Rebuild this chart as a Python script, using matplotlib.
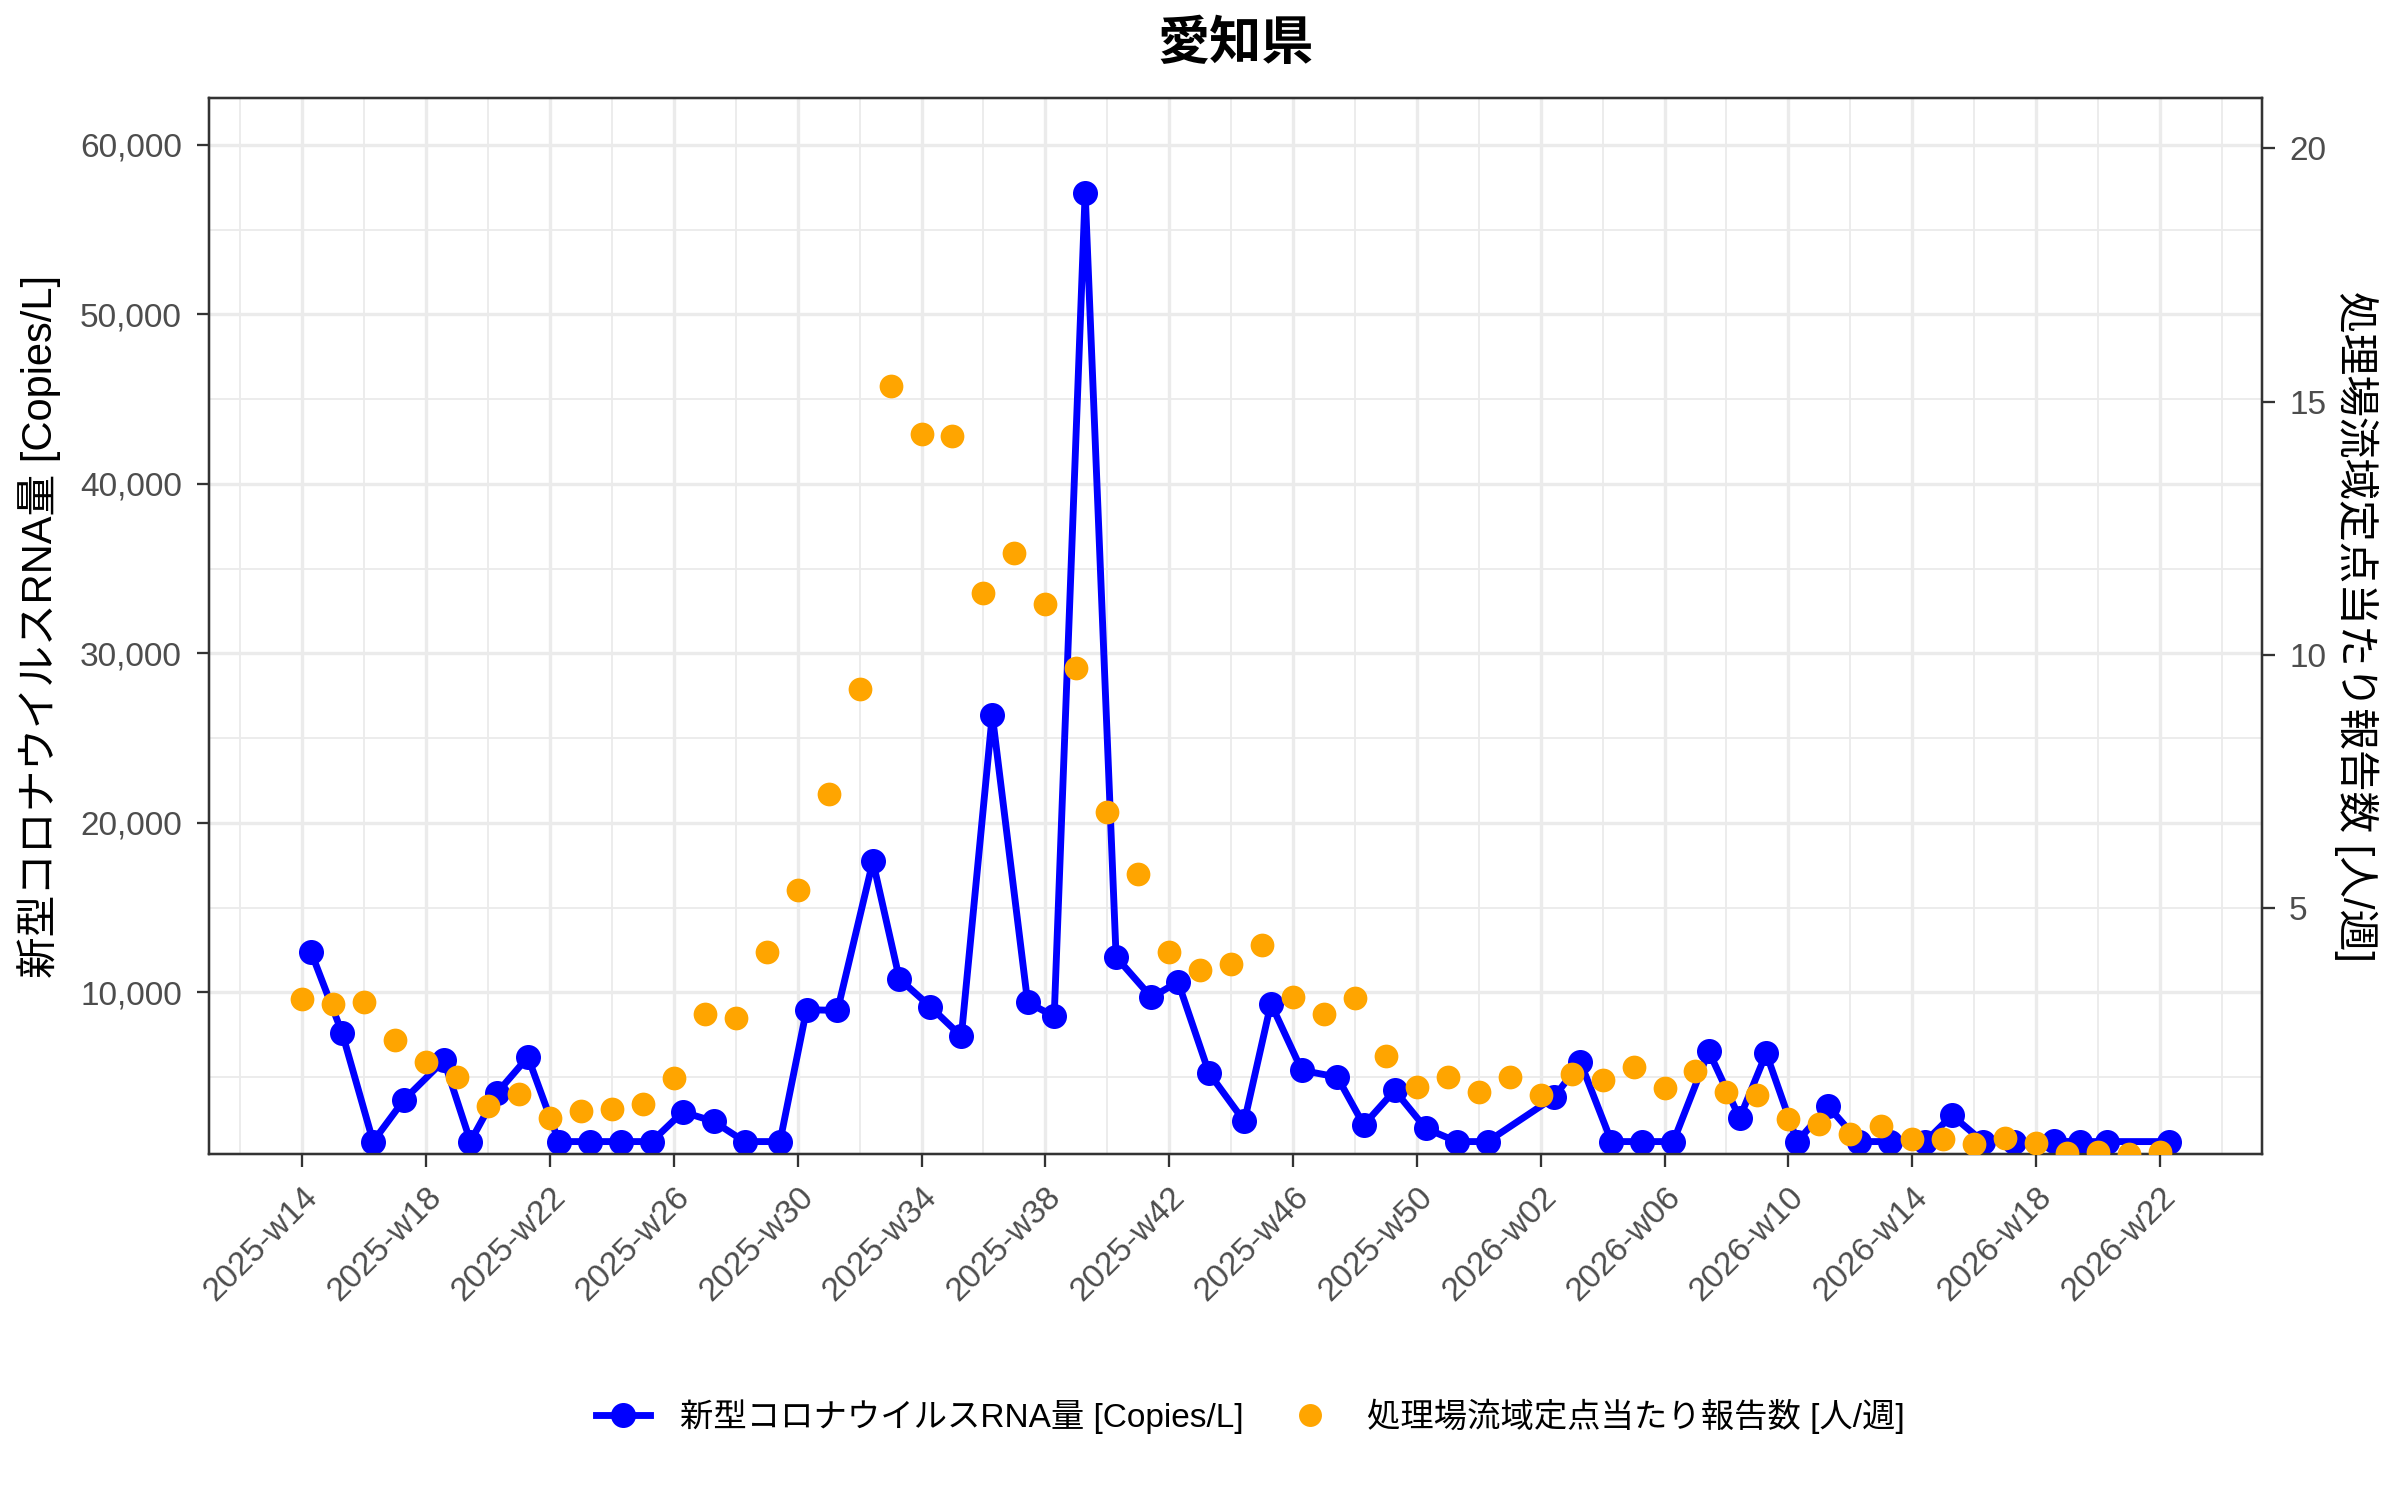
import datetime as dt
import matplotlib
matplotlib.use("Agg")
import matplotlib.pyplot as plt
import matplotlib.dates as mdates
from matplotlib.ticker import FixedLocator, FuncFormatter
from matplotlib.lines import Line2D

plt.rcParams['font.family'] = ['Liberation Sans', 'Noto Sans CJK JP', 'DejaVu Sans']

# ---------------- data ----------------
title = "愛知県"
rna_label = "新型コロナウイルスRNA量 [Copies/L]"
rep_label = "処理場流域定点当たり報告数 [人/週]"

rna_dates = [
    "2025-04-02", "2025-04-09", "2025-04-16", "2025-04-23", "2025-05-02",
    "2025-05-08", "2025-05-14", "2025-05-21", "2025-05-28", "2025-06-04",
    "2025-06-11", "2025-06-18", "2025-06-25", "2025-07-02", "2025-07-09",
    "2025-07-17", "2025-07-23", "2025-07-30", "2025-08-07", "2025-08-13",
    "2025-08-20", "2025-08-27", "2025-09-03", "2025-09-11", "2025-09-17",
    "2025-09-24", "2025-10-01", "2025-10-09", "2025-10-15", "2025-10-22",
    "2025-10-30", "2025-11-05", "2025-11-12", "2025-11-20", "2025-11-26",
    "2025-12-03", "2025-12-10", "2025-12-17", "2025-12-24", "2026-01-08",
    "2026-01-14", "2026-01-21", "2026-01-28", "2026-02-04", "2026-02-12",
    "2026-02-19", "2026-02-25", "2026-03-04", "2026-03-11", "2026-03-18",
    "2026-03-25", "2026-04-02", "2026-04-08", "2026-04-15", "2026-04-22",
    "2026-05-01", "2026-05-07", "2026-05-13", "2026-05-27",
]
rna_values = [
    12350, 7600, 1190, 3660, 5980,
    1190, 4060, 6180, 1190, 1190,
    1190, 1190, 2940, 2380, 1190,
    1190, 8970, 8930, 17720, 10790,
    9150, 7400, 26370, 9400, 8580,
    57180, 12080, 9700, 10610, 5240,
    2380, 9330, 5390, 5000, 2170,
    4210, 1970, 1190, 1190, 3800,
    5870, 1190, 1190, 1190, 6520,
    2580, 6400, 1190, 3270, 1190,
    1190, 1190, 2740, 1190, 1190,
    1200, 1190, 1190, 1190,
]

report_weeks = (["2025-w%02d" % w for w in range(14, 53)] +
                ["2026-w%02d" % w for w in range(1, 23)])
report_values = [
    3.21, 3.12, 3.16, 2.41, 1.96, 1.68, 1.10, 1.33, 0.87, 1.00,
    1.05, 1.14, 1.66, 2.91, 2.84, 4.14, 5.37, 7.26, 9.33, 15.30,
    14.37, 14.32, 11.22, 12.02, 11.01, 9.75, 6.91, 5.68, 4.14, 3.79,
    3.91, 4.28, 3.26, 2.91, 3.24, 2.08, 1.48, 1.68, 1.37,
    1.68, 1.31, 1.74, 1.62, 1.87, 1.46, 1.80, 1.37, 1.31, 0.84,
    0.75, 0.54, 0.70, 0.45, 0.45, 0.36, 0.47, 0.37, 0.17, 0.20,
    0.16, 0.19,
]

tick_labels = ["2025-w14", "2025-w18", "2025-w22", "2025-w26", "2025-w30",
               "2025-w34", "2025-w38", "2025-w42", "2025-w46", "2025-w50",
               "2026-w02", "2026-w06", "2026-w10", "2026-w14", "2026-w18",
               "2026-w22"]

left_ticks = [10000, 20000, 30000, 40000, 50000, 60000]
right_ticks = [5, 10, 15, 20]
scale_k = 2990.0
left_ylim = (460, 62770)


def week_to_date(label):
    y, w = label.split("-w")
    return dt.date.fromisocalendar(int(y), int(w), 1)


rna_x = [mdates.date2num(dt.date.fromisoformat(d)) for d in rna_dates]
rep_x = [mdates.date2num(week_to_date(w)) for w in report_weeks]
tick_x = [mdates.date2num(week_to_date(w)) for w in tick_labels]

# ---------------- figure ----------------
fig = plt.figure(figsize=(16, 10), dpi=150)
ax = fig.add_axes([0.0871, 0.2307, 0.8554, 0.7040])
ax2 = ax.twinx()

BLUE = "#0000FF"
ORANGE = "#FFA500"
GRID = "#EBEBEB"
DARK = "#333333"

ax.plot(rna_x, rna_values, color=BLUE, lw=3.3, marker='o', ms=11,
        zorder=3, solid_joinstyle='round')
ax2.scatter(rep_x, report_values, s=130, color=ORANGE, zorder=4,
            linewidths=0)

# x limits with 5% expansion
xmin = min(min(rna_x), min(rep_x))
xmax = max(max(rna_x), max(rep_x))
pad = 0.05 * (xmax - xmin)
ax.set_xlim(xmin - pad, xmax + pad)

ax.set_ylim(*left_ylim)
ax2.set_ylim(left_ylim[0] / scale_k, left_ylim[1] / scale_k)

# ticks
ax.xaxis.set_major_locator(FixedLocator(tick_x))
ax.set_xticklabels(tick_labels)
step = tick_x[1] - tick_x[0]
minor_x = [tick_x[0] - step / 2 + i * step for i in range(len(tick_x) + 1)]
ax.xaxis.set_minor_locator(FixedLocator(minor_x))

ax.yaxis.set_major_locator(FixedLocator(left_ticks))
ax.yaxis.set_major_formatter(FuncFormatter(lambda v, p: f"{v:,.0f}"))
minor_y = [v - 5000 for v in left_ticks] + [left_ticks[-1] + 5000]
ax.yaxis.set_minor_locator(FixedLocator(minor_y))

ax2.yaxis.set_major_locator(FixedLocator(right_ticks))
ax2.yaxis.set_major_formatter(FuncFormatter(lambda v, p: f"{v:g}"))

for a in (ax, ax2):
    a.tick_params(axis='both', which='major', length=6, width=1.1,
                  color=DARK, labelcolor='#4D4D4D', labelsize=16, pad=7)
    a.tick_params(axis='both', which='minor', length=0)
    for s in a.spines.values():
        s.set_color(DARK)
        s.set_linewidth(1.1)

for lbl in ax.get_xticklabels():
    lbl.set_rotation(45)
    lbl.set_ha('right')
    lbl.set_va('top')
    lbl.set_rotation_mode('anchor')

ax.grid(which='major', color=GRID, lw=1.6)
ax.grid(which='minor', color=GRID, lw=0.9)
ax.set_axisbelow(True)
ax2.grid(False)
ax2.patch.set_visible(False)

# labels
ax.set_ylabel(rna_label, fontsize=20, color='black', va='center')
ax.yaxis.set_label_coords(-0.083, 0.5)
ax2.set_ylabel(rep_label, fontsize=20, color='black', rotation=270,
               va='center')
ax2.yaxis.set_label_coords(1.046, 0.5)

fig.text(0.5148, 0.970, title, ha='center', va='center', fontsize=25,
         fontweight='bold')

handles = [Line2D([], [], color=BLUE, lw=3.3, marker='o', ms=11),
           Line2D([], [], ls='none', marker='o', color=ORANGE, ms=11,
                  markeredgewidth=0)]
fig.legend(handles, [rna_label, rep_label], loc='center',
           bbox_to_anchor=(0.521, 0.056), ncol=2, frameon=False,
           fontsize=16, handlelength=1.6, handletextpad=0.9,
           columnspacing=1.2)

fig.savefig("out.png", dpi=150)
